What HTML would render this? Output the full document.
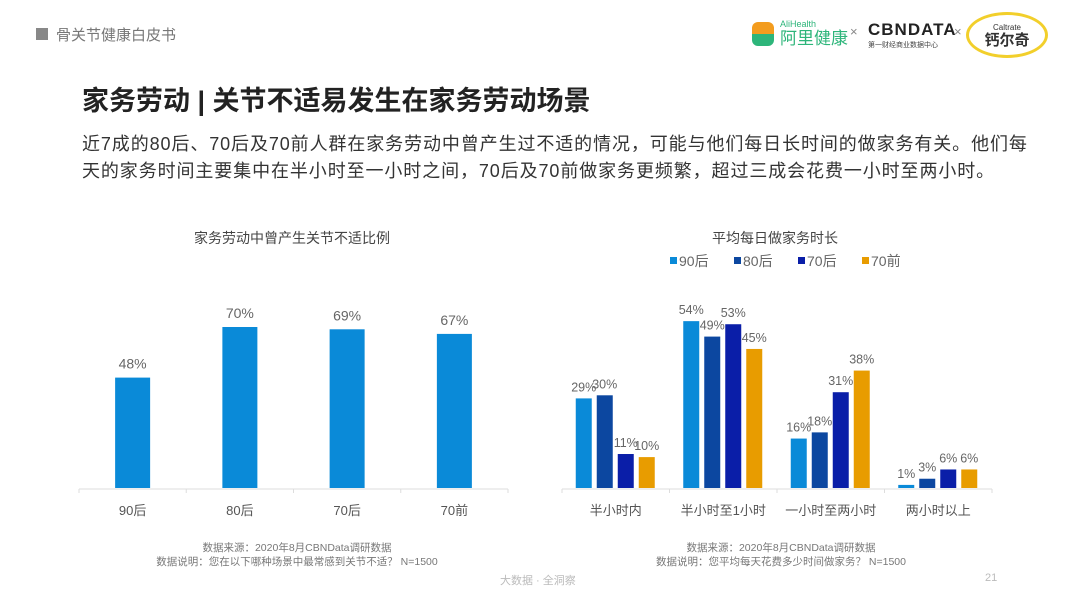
<!DOCTYPE html>
<html><head><meta charset="utf-8"><style>
body{margin:0;width:1080px;height:604px;background:#fff;font-family:"Liberation Sans","Noto Sans CJK SC",sans-serif;overflow:hidden;position:relative}
.a{position:absolute;white-space:nowrap}
</style></head><body>
<div class="a" style="left:36px;top:28px;width:12px;height:12px;background:#888"></div>
<div class="a" style="left:56px;top:24px;font-size:15px;color:#777">骨关节健康白皮书</div>
<div class="a" style="left:752px;top:22px;width:22px;height:24px;border-radius:6px;background:linear-gradient(#f39c1e 50%,#2db57a 50%)"></div>
<div class="a" style="left:780px;top:19px;font-size:9px;color:#2db57a;line-height:10px">AliHealth<br><span style="font-size:17px;line-height:20px">阿里健康</span></div>
<div class="a" style="left:850px;top:24px;font-size:13px;color:#888">×</div>
<div class="a" style="left:868px;top:20px;font-size:17px;font-weight:bold;color:#222;letter-spacing:1px">CBNDATA<div style="font-size:7px;font-weight:normal;letter-spacing:0;color:#444">第一财经商业数据中心</div></div>
<div class="a" style="left:954px;top:24px;font-size:13px;color:#888">×</div>
<div class="a" style="left:966px;top:12px;width:82px;height:46px;border-radius:50%;border:3px solid #f2cf2b;background:#fff;text-align:center;font-size:8px;color:#333;box-sizing:border-box;padding-top:8px;line-height:9px">Caltrate<br><b style="font-size:15px;line-height:18px">钙尔奇</b></div>
<div class="a" style="left:82px;top:79px;font-size:27px;font-weight:bold;color:#222">家务劳动 | 关节不适易发生在家务劳动场景</div>
<div class="a" style="left:82px;top:131px;font-size:18px;color:#333;line-height:27px;white-space:normal;width:952px;letter-spacing:0.9px">近7成的80后、70后及70前人群在家务劳动中曾产生过不适的情况，可能与他们每日长时间的做家务有关。他们每天的家务时间主要集中在半小时至一小时之间，70后及70前做家务更频繁，超过三成会花费一小时至两小时。</div>
<svg class="a" style="left:0;top:0" width="1080" height="604" id="svg"></svg>
<div class="a" style="left:500px;top:572px;font-size:11px;color:#bbb">大数据 · 全洞察</div>
<div class="a" style="left:985px;top:572px;font-size:11px;color:#bbb">21</div>
<script>
const leftCats=["90后","80后","70后","70前"];
const leftVals=[48,70,69,67];
const rightCats=["半小时内","半小时至1小时","一小时至两小时","两小时以上"];
const seriesNames=["90后","80后","70后","70前"];
const s90=[29,54,16,1];
const s80=[30,49,18,3];
const s70=[11,53,31,6];
const s70q=[10,45,38,6];
const NS="http://www.w3.org/2000/svg";
const svg=document.getElementById('svg');
function mk(t,at,txt){const e=document.createElementNS(NS,t);for(const k in at)e.setAttribute(k,at[k]);if(txt!=null)e.textContent=txt;svg.appendChild(e);return e;}
const base=488;
// left chart
const lx0=79,lstep=107.25,ly=v=>base-v*2.3;
mk('text',{x:292,y:243,'font-size':14,fill:'#444','text-anchor':'middle',},'家务劳动中曾产生关节不适比例');
let ax=mk('line',{x1:lx0,x2:lx0+4*lstep,y1:base+1,y2:base+1,stroke:'#ddd'});


for(let i=0;i<=4;i++){let t=mk('line',{x1:lx0+i*lstep,x2:lx0+i*lstep,y1:base+1,y2:base+5,stroke:'#ddd'});}
leftVals.forEach((v,i)=>{const cx=lx0+(i+.5)*lstep;
let r=mk('rect',{x:cx-17.5,y:ly(v),width:35,height:base-ly(v),fill:'#0a8ad8'});


let l=mk('text',{x:cx,y:ly(v)-9,'font-size':14,fill:'#666','text-anchor':'middle'},v+'%');


let c=mk('text',{x:cx,y:515,'font-size':13,fill:'#555','text-anchor':'middle'},leftCats[i]);

});
// right chart
const colors=['#0a8ad8','#0c47a0','#0a1ea8','#e89c00'];
const series=[s90,s80,s70,s70q];
const rx0=562,rstep=107.5,ry=v=>base-v*3.09;
mk('text',{x:775,y:243,'font-size':14,fill:'#444','text-anchor':'middle',},'平均每日做家务时长');
const legX=[670,734,798,862];
seriesNames.forEach((n,k)=>{let s=mk('rect',{x:legX[k],y:257,width:7,height:7,fill:colors[k]});
let t=mk('text',{x:legX[k]+9,y:266,'font-size':14,fill:'#666'},n);});
let ax2=mk('line',{x1:rx0,x2:rx0+4*rstep,y1:base+1,y2:base+1,stroke:'#ddd'});


for(let i=0;i<=4;i++){let t=mk('line',{x1:rx0+i*rstep,x2:rx0+i*rstep,y1:base+1,y2:base+5,stroke:'#ddd'});}
rightCats.forEach((c,i)=>{const cx=rx0+(i+.5)*rstep;
series.forEach((s,k)=>{const v=s[i];const bx=cx-40+k*21;
let r=mk('rect',{x:bx,y:ry(v),width:16,height:base-ry(v),fill:colors[k]});


let l=mk('text',{x:bx+8,y:ry(v)-7,'font-size':12.5,fill:'#666','text-anchor':'middle'},v+'%');

});
let t=mk('text',{x:cx,y:515,'font-size':13,fill:'#555','text-anchor':'middle'},c);

});
[[297,551,'数据来源：2020年8月CBNData调研数据'],[297,565,'数据说明：您在以下哪种场景中最常感到关节不适？ N=1500'],[781,551,'数据来源：2020年8月CBNData调研数据'],[781,565,'数据说明：您平均每天花费多少时间做家务？ N=1500']].forEach(a=>{let t=mk('text',{x:a[0],y:a[1],'font-size':10.5,fill:'#777','text-anchor':'middle'},a[2]);});
</script>
</body></html>
